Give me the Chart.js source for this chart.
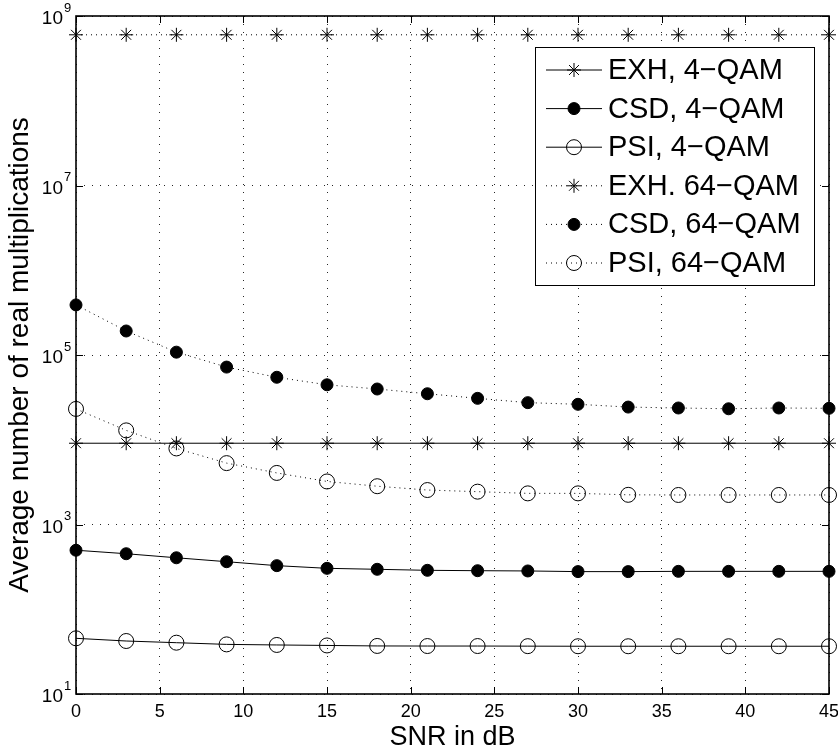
<!DOCTYPE html>
<html>
<head>
<meta charset="utf-8">
<script src="https://cdn.jsdelivr.net/npm/chart.js@4/dist/chart.umd.min.js"></script>
<style>
  html, body { margin: 0; padding: 0; background: #ffffff; }
  #wrap { width: 838px; height: 751px; position: relative; }
</style>
</head>
<body>
<div id="wrap"><canvas id="c"></canvas></div>
<script>
// ---- data ----
const snrDb = [0, 3, 6, 9, 12, 15, 18, 21, 24, 27, 30, 33, 36, 39, 42, 45];
const exh4qam = [9100, 9100, 9100, 9100, 9100, 9100, 9100, 9100, 9100, 9100, 9100, 9100, 9100, 9100, 9100, 9100];
const csd4qam = [497, 452, 405, 364, 327, 304, 296, 288, 285, 283, 278, 278, 280, 280, 280, 280];
const psi4qam = [45.4, 42.2, 40.3, 38.5, 37.9, 37.4, 36.9, 36.8, 36.8, 36.7, 36.6, 36.6, 36.6, 36.6, 36.6, 36.6];
const exh64qam = [6.0e8, 6.0e8, 6.0e8, 6.0e8, 6.0e8, 6.0e8, 6.0e8, 6.0e8, 6.0e8, 6.0e8, 6.0e8, 6.0e8, 6.0e8, 6.0e8, 6.0e8, 6.0e8];
const csd64qam = [390000, 192000, 108000, 72000, 54600, 44500, 39700, 34900, 30800, 27400, 26200, 24300, 23700, 23200, 23700, 23500];
const psi64qam = [23100, 12900, 7900, 5300, 4060, 3220, 2830, 2550, 2440, 2330, 2330, 2240, 2230, 2230, 2230, 2230];
const seriesLabels = ['EXH, 4\u2212QAM', 'CSD, 4\u2212QAM', 'PSI, 4\u2212QAM', 'EXH. 64\u2212QAM', 'CSD, 64\u2212QAM', 'PSI, 64\u2212QAM'];
const xTickValues = [0, 5, 10, 15, 20, 25, 30, 35, 40, 45];
const yTickExponents = [1, 3, 5, 7, 9];
const xAxisTitle = 'SNR in dB';
const yAxisTitle = 'Average number of real multiplications';

// ---- styling ----
const FONT = "'Liberation Sans', Arial, Helvetica, sans-serif";
const toPts = arr => snrDb.map((x, i) => ({ x: x, y: arr[i] }));

function ds(label, values, marker, dashed) {
  const base = {
    label: label,
    data: toPts(values),
    borderColor: '#000',
    borderWidth: 1,
    borderDash: dashed ? [1, 4] : [],
    tension: 0,
    fill: false,
    clip: false,
    pointBorderColor: '#000',
    pointBorderWidth: 1,
    pointHoverRadius: 0
  };
  if (marker === 'star') {
    Object.assign(base, { pointStyle: 'star', pointRadius: 7, pointBackgroundColor: 'rgba(0,0,0,0)' });
  } else if (marker === 'dot') {
    Object.assign(base, { pointStyle: 'circle', pointRadius: 6, pointBackgroundColor: '#000' });
  } else {
    Object.assign(base, { pointStyle: 'circle', pointRadius: 7.5, pointBackgroundColor: 'rgba(0,0,0,0)' });
  }
  return base;
}

const datasets = [
  ds(seriesLabels[0], exh4qam, 'star', false),
  ds(seriesLabels[1], csd4qam, 'dot', false),
  ds(seriesLabels[2], psi4qam, 'ring', false),
  ds(seriesLabels[3], exh64qam, 'star', true),
  ds(seriesLabels[4], csd64qam, 'dot', true),
  ds(seriesLabels[5], psi64qam, 'ring', true)
];

const matlabDecor = {
  id: 'matlabDecor',
  afterDatasetsDraw(chart) {
    const { ctx, chartArea: ca } = chart;
    const xs = chart.scales.x, ys = chart.scales.y;
    ctx.save();
    // inward tick marks
    ctx.strokeStyle = '#000';
    ctx.lineWidth = 1;
    ctx.setLineDash([]);
    const tl = 7;
    xTickValues.forEach(v => {
      const px = Math.round(xs.getPixelForValue(v)) + 0.5;
      ctx.beginPath();
      ctx.moveTo(px, ca.bottom); ctx.lineTo(px, ca.bottom - tl);
      ctx.moveTo(px, ca.top); ctx.lineTo(px, ca.top + tl);
      ctx.stroke();
    });
    yTickExponents.forEach(e => {
      const py = Math.round(ys.getPixelForValue(Math.pow(10, e))) + 0.5;
      ctx.beginPath();
      ctx.moveTo(ca.left, py); ctx.lineTo(ca.left + tl, py);
      ctx.moveTo(ca.right, py); ctx.lineTo(ca.right - tl, py);
      ctx.stroke();
    });
    // axes box
    ctx.lineWidth = 1.6;
    ctx.strokeRect(ca.left, ca.top, ca.right - ca.left, ca.bottom - ca.top);

    // y tick labels 10^n
    ctx.fillStyle = '#000';
    yTickExponents.forEach(e => {
      const py = ys.getPixelForValue(Math.pow(10, e));
      ctx.font = '19px ' + FONT;
      ctx.textAlign = 'right';
      ctx.textBaseline = 'middle';
      ctx.fillText('10', ca.left - 13, py + 3);
      ctx.font = '13px ' + FONT;
      ctx.textAlign = 'left';
      ctx.fillText(String(e), ca.left - 12, py - 8);
    });

    // legend box
    const lx0 = ca.right - 294, lx1 = ca.right - 15;
    const ly0 = ca.top + 31, ly1 = ca.top + 269;
    ctx.fillStyle = '#fff';
    ctx.fillRect(lx0, ly0, lx1 - lx0, ly1 - ly0);
    ctx.strokeStyle = '#000';
    ctx.lineWidth = 1;
    ctx.strokeRect(lx0 + 0.5, ly0 + 0.5, lx1 - lx0, ly1 - ly0);
    chart.data.datasets.forEach((d, i) => {
      const cy = ly0 + 23 + i * 38.6;
      ctx.save();
      ctx.strokeStyle = '#000';
      ctx.lineWidth = 1;
      ctx.setLineDash(d.borderDash || []);
      ctx.beginPath();
      ctx.moveTo(lx0 + 11, cy); ctx.lineTo(lx0 + 67, cy);
      ctx.stroke();
      ctx.setLineDash([]);
      ctx.fillStyle = d.pointBackgroundColor;
      ctx.strokeStyle = '#000';
      ctx.lineWidth = 1;
      Chart.helpers.drawPoint(ctx, { pointStyle: d.pointStyle, radius: d.pointRadius, borderWidth: 1, rotation: 0 }, lx0 + 39, cy);
      ctx.restore();
      ctx.fillStyle = '#000';
      ctx.font = '29px ' + FONT;
      ctx.textAlign = 'left';
      ctx.textBaseline = 'middle';
      ctx.fillText(d.label, lx0 + 73, cy + 1);
    });
    ctx.restore();
  }
};

new Chart(document.getElementById('c'), {
  type: 'line',
  data: { datasets: datasets },
  options: {
    responsive: true,
    maintainAspectRatio: false,
    animation: false,
    events: [],
    layout: { padding: { left: 0, right: 9, top: 16, bottom: 0 } },
    plugins: { legend: { display: false }, tooltip: { enabled: false } },
    scales: {
      x: {
        type: 'linear',
        min: 0,
        max: 45,
        afterBuildTicks: s => { s.ticks = xTickValues.map(v => ({ value: v })); },
        afterFit: s => { s.height = 57; s.paddingLeft = 0; s.paddingRight = 0; },
        ticks: { color: '#000', font: { family: FONT, size: 18 }, padding: 7, maxRotation: 0, autoSkip: false },
        grid: { color: 'rgba(0,0,0,0.85)', lineWidth: 1, drawTicks: false },
        border: { display: false, dash: [1, 7] },
        title: { display: true, text: xAxisTitle, color: '#000', font: { family: FONT, size: 27, lineHeight: 1 }, padding: { top: 0, bottom: 0 } }
      },
      y: {
        type: 'logarithmic',
        min: 10,
        max: 1e9,
        afterBuildTicks: s => { s.ticks = yTickExponents.map(e => ({ value: Math.pow(10, e) })); },
        afterFit: s => { s.width = 76; s.paddingTop = 0; s.paddingBottom = 0; },
        ticks: { display: false },
        grid: { color: 'rgba(0,0,0,0.85)', lineWidth: 1, drawTicks: false },
        border: { display: false, dash: [1, 7] },
        title: { display: true, text: yAxisTitle, color: '#000', font: { family: FONT, size: 28, lineHeight: 1 }, padding: { top: 6, bottom: 0 } }
      }
    }
  },
  plugins: [matlabDecor]
});
</script>
</body>
</html>
